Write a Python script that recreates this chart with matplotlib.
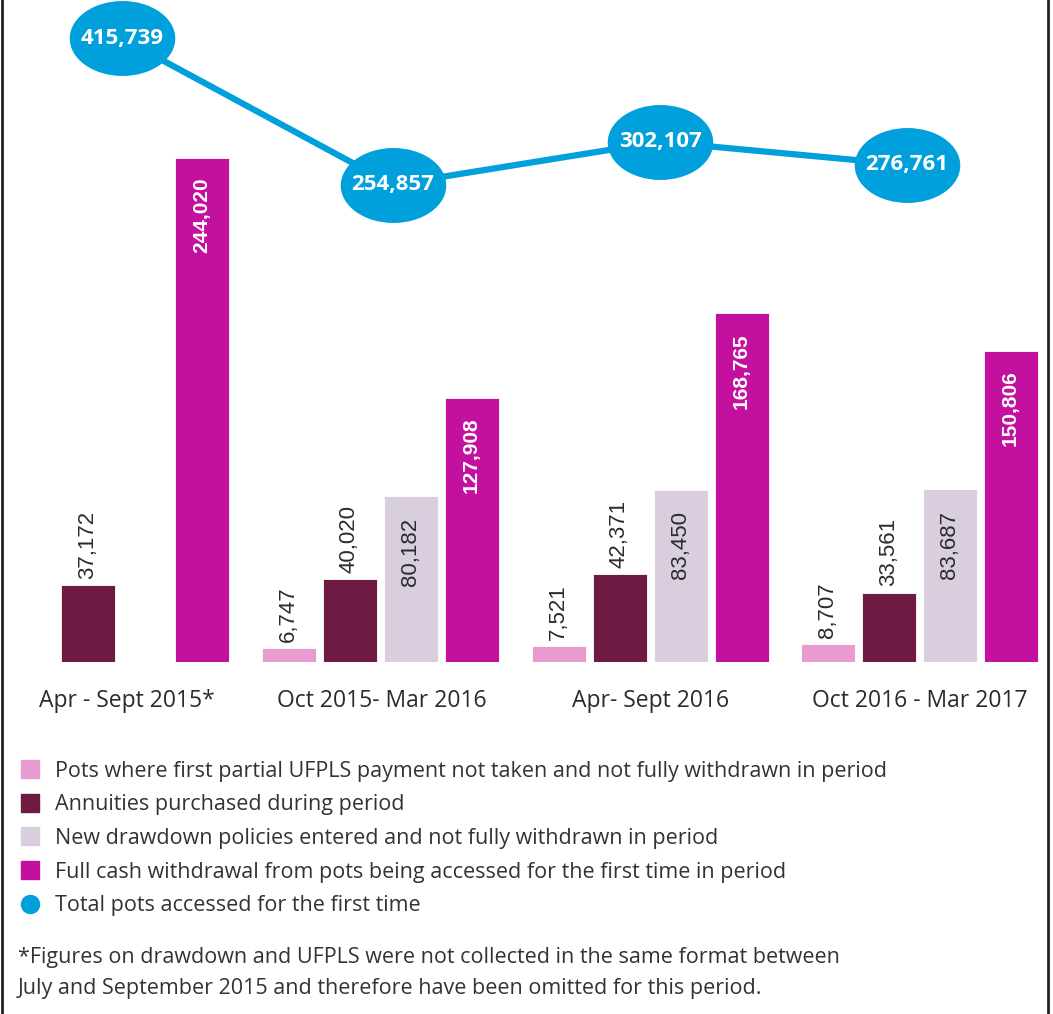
import numpy as np
import matplotlib.pyplot as plt
from matplotlib.lines import Line2D
from matplotlib.path import Path
from matplotlib.transforms import Affine2D

# ── Data ──────────────────────────────────────────────────────────────────────
periods = ["Apr - Sept 2015*", "Oct 2015- Mar 2016", "Apr- Sept 2016", "Oct 2016 - Mar 2017"]
ufpls_partial = [np.nan, 6747, 7521, 8707]
annuities = [37172, 40020, 42371, 33561]
drawdown = [np.nan, 80182, 83450, 83687]
full_cash = [244020, 127908, 168765, 150806]
total_pots = [415739, 254857, 302107, 276761]

series_labels = [
    "Pots where first partial UFPLS payment not taken and not fully withdrawn in period",
    "Annuities purchased during period",
    "New drawdown policies entered and not fully withdrawn in period",
    "Full cash withdrawal from pots being accessed for the first time in period",
]
total_label = "Total pots accessed for the first time"
footnote = ("*Figures on drawdown and UFPLS were not collected in the same format between\n"
            "July and September 2015 and therefore have been omitted for this period.")

colors = ["#E89BCF", "#6E1A42", "#D9CEDD", "#C3109E"]
blue = "#00A0DC"

plt.rcParams["font.family"] = ["Open Sans", "DejaVu Sans"]

fig = plt.figure(figsize=(10.53, 10.14), dpi=100)
W, H = 1053, 1014
base_px = 662
ax = fig.add_axes([0, 1 - base_px / H, 1, base_px / H])
ax.set_xlim(0, W)
ax.set_ylim(0, 320500)
ax.axis("off")

# ── Bars ──────────────────────────────────────────────────────────────────────
group_centers = np.array([116, 380, 650, 919])
group_steps = np.array([57, 61, 61, 61])
bw = 54
slot = np.array([-1.5, -0.5, 0.5, 1.5])
all_series = [ufpls_partial, annuities, drawdown, full_cash]

for i, (vals, col) in enumerate(zip(all_series, colors)):
    xs = group_centers + slot[i] * group_steps
    ax.bar(xs, vals, width=bw, color=col, edgecolor="white", linewidth=0.6)
    for x, v in zip(xs, vals):
        if np.isnan(v):
            continue
        txt = f"{int(v):,}"
        if i == 3:
            ax.text(x, v - 9500, txt, rotation=90, ha="center", va="top",
                    color="white", fontsize=15, fontweight="bold",
                    family="Liberation Sans")
        elif i == 2:
            ax.text(x, v - 10500, txt, rotation=90, ha="center", va="top",
                    color="#2b2b2b", fontsize=16, family="Liberation Sans")
        else:
            ax.text(x, v + 3000, txt, rotation=90, ha="center", va="bottom",
                    color="#2b2b2b", fontsize=16, family="Liberation Sans")

label_shift = [11, 2, 1, 1]
for x, p, s in zip(group_centers, periods, label_shift):
    ax.text(x + s, -17500, p, ha="center", va="center_baseline",
            fontsize=16.5, color="#2b2b2b")

# ── Total line with ellipse markers ──────────────────────────────────────────
ax2 = ax.twinx()
ax2.set_ylim(-270000, 458000)
ax2.axis("off")
line_shift = np.array([6, 13, 10, -12])
line_x = group_centers + line_shift
ellipse = Path.unit_circle().transformed(Affine2D().scale(1.0, 0.71))
ax2.plot(line_x, total_pots, color=blue, linewidth=4.5, zorder=2)
ax2.plot(line_x, total_pots, linestyle="none", marker=ellipse,
         markersize=76, color=blue, markeredgewidth=0, zorder=3)
for x, v in zip(line_x, total_pots):
    ax2.text(x, v, f"{v:,}", ha="center", va="center", color="white",
             fontsize=16, fontweight="bold", zorder=4)

# ── Legend ────────────────────────────────────────────────────────────────────
handles = [Line2D([], [], linestyle="none", marker="s", markersize=13,
                  color=c) for c in colors]
handles.append(Line2D([], [], linestyle="none", marker="o", markersize=13,
                      color=blue))
fig.legend(handles, series_labels + [total_label], loc="upper left",
           bbox_to_anchor=(12 / W, 1 - 752 / H), frameon=False,
           fontsize=15.5, labelcolor="#333333", handlelength=0.85,
           handletextpad=0.75, labelspacing=0.59, borderaxespad=0)

fig.text(18 / W, 1 - 947 / H, footnote, ha="left", va="top", fontsize=15.5,
         color="#333333", linespacing=1.65)

# frame lines at the sides
fig.add_artist(Line2D([2 / W, 2 / W], [0, 1], color="#222222", linewidth=2))
fig.add_artist(Line2D([1 - 5 / W, 1 - 5 / W], [0, 1], color="#222222", linewidth=2))

fig.savefig("out.png", dpi=100)
